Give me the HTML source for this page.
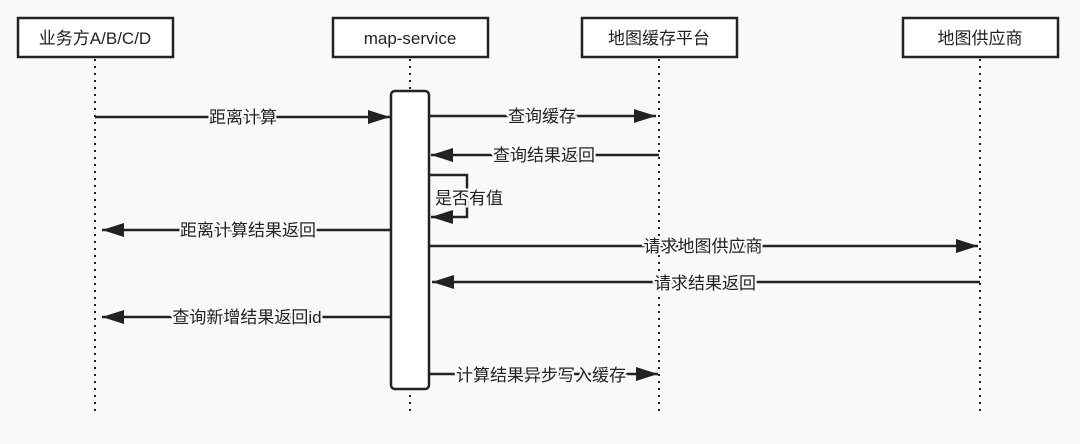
<!DOCTYPE html>
<html><head><meta charset="utf-8"><style>
html,body{margin:0;padding:0;background:#f8f9fb;}
svg{display:block;}
text{font-family:"Liberation Sans","Noto Sans CJK SC",sans-serif;font-size:17px;fill:#222;}
.lbl{paint-order:stroke;stroke:#f8f9fb;stroke-width:4px;}
</style></head><body>
<svg width="1080" height="444" viewBox="0 0 1080 444" xmlns="http://www.w3.org/2000/svg">
<rect width="1080" height="444" fill="#f8f9fb"/>
<defs><marker id="a" markerWidth="22" markerHeight="14" refX="22" refY="7" orient="auto" markerUnits="userSpaceOnUse"><path d="M0,0 L22,7 L0,14 Z" fill="#222"/></marker></defs>
<g stroke="#222" stroke-width="2" stroke-dasharray="2,5" fill="none">
<line x1="95" y1="59" x2="95" y2="416"/>
<line x1="410" y1="59" x2="410" y2="416"/>
<line x1="659" y1="59" x2="659" y2="416"/>
<line x1="980" y1="59" x2="980" y2="416"/>
</g>
<g stroke="#222" stroke-width="2.5" fill="#fff">
<rect x="18" y="18" width="155" height="39"/>
<rect x="333" y="18" width="155" height="39"/>
<rect x="582" y="18" width="155" height="39"/>
<rect x="903" y="18" width="155" height="39"/>
<rect x="391" y="91" width="38" height="298" rx="4"/>
</g>
<g text-anchor="middle">
<text x="95" y="44">业务方A/B/C/D</text>
<text x="410" y="44">map-service</text>
<text x="659" y="44">地图缓存平台</text>
<text x="980" y="44">地图供应商</text>
</g>
<g stroke="#222" stroke-width="2.5" fill="none" marker-end="url(#a)">
<line x1="95" y1="117" x2="390" y2="117"/>
<line x1="430" y1="116" x2="656" y2="116"/>
<line x1="659" y1="155" x2="431" y2="155"/>
<polyline points="430,175 467,175 467,217 431,217"/>
<line x1="390" y1="230" x2="102" y2="230"/>
<line x1="430" y1="246" x2="978" y2="246"/>
<line x1="980" y1="282" x2="432" y2="282"/>
<line x1="390" y1="317" x2="102" y2="317"/>
<line x1="430" y1="374" x2="658" y2="374"/>
</g>
<g text-anchor="middle">
<text x="243" y="123" class="lbl">距离计算</text>
<text x="542" y="122" class="lbl">查询缓存</text>
<text x="544" y="161" class="lbl">查询结果返回</text>
<text x="248" y="236" class="lbl">距离计算结果返回</text>
<text x="703" y="252" class="lbl">请求地图供应商</text>
<text x="705" y="289" class="lbl">请求结果返回</text>
<text x="247" y="323" class="lbl">查询新增结果返回id</text>
<text x="541" y="381" class="lbl">计算结果异步写入缓存</text>
</g>
<text x="435" y="204" class="lbl">是否有值</text>
</svg>
</body></html>
